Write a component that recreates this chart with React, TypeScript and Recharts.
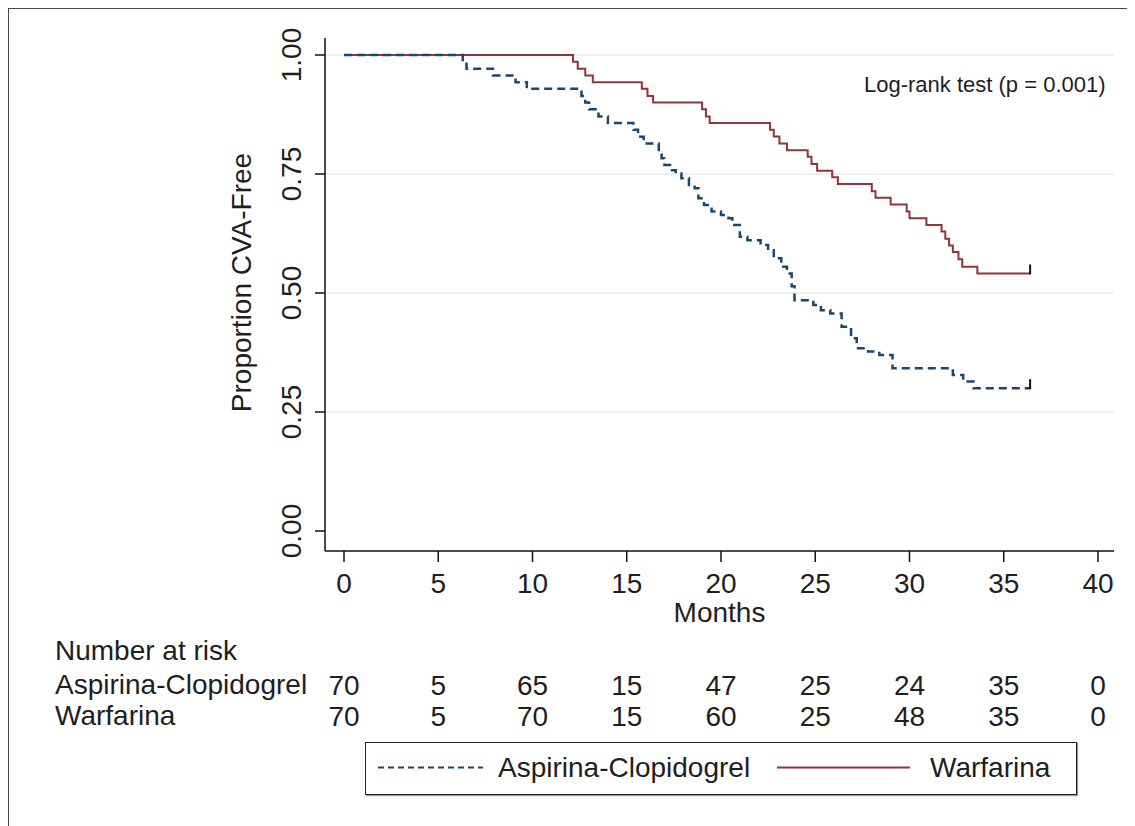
import React from 'react';
import { ComposedChart, Line, XAxis, YAxis, ReferenceLine } from 'recharts';

const monthTicks = [0, 5, 10, 15, 20, 25, 30, 35, 40];
const proportionTicks = [0, 0.25, 0.5, 0.75, 1];
const gridValues = [0.25, 0.5, 0.75, 1];

const riskAspirina = [70, 5, 65, 15, 47, 25, 24, 35, 0];
const riskWarfarina = [70, 5, 70, 15, 60, 25, 48, 35, 0];

// Kaplan-Meier steps: [month, proportion CVA-free]
const aspirinaSteps = [
  [0, 1.0], [6.3, 0.986], [6.5, 0.971], [7.9, 0.957], [9.1, 0.943], [9.7, 0.929],
  [12.6, 0.914], [12.8, 0.9], [13.0, 0.886], [13.5, 0.871], [14.0, 0.857],
  [15.35, 0.843], [15.6, 0.828], [15.9, 0.814], [16.7, 0.797], [16.85, 0.783],
  [17.0, 0.769], [17.3, 0.758], [17.6, 0.751], [17.9, 0.741], [18.3, 0.727],
  [18.6, 0.72], [18.8, 0.699], [19.1, 0.685], [19.5, 0.671], [20.0, 0.664],
  [20.4, 0.657], [20.6, 0.643], [21.0, 0.618], [21.4, 0.611], [22.1, 0.601],
  [22.5, 0.59], [22.8, 0.573], [23.2, 0.555], [23.5, 0.541], [23.75, 0.514],
  [23.9, 0.485], [24.9, 0.475], [25.3, 0.464], [25.8, 0.457], [26.4, 0.429],
  [26.9, 0.405], [27.2, 0.384], [27.8, 0.377], [28.4, 0.37], [29.1, 0.342],
  [32.3, 0.328], [32.85, 0.314], [33.4, 0.3], [36.4, 0.3],
];

const warfarinaSteps = [
  [0, 1.0], [12.15, 0.986], [12.4, 0.971], [12.8, 0.957], [13.2, 0.943],
  [15.8, 0.929], [16.1, 0.914], [16.4, 0.9], [19.0, 0.886], [19.2, 0.871],
  [19.4, 0.857], [22.6, 0.843], [22.8, 0.829], [23.1, 0.814], [23.5, 0.8],
  [24.6, 0.786], [24.8, 0.771], [25.1, 0.757], [25.9, 0.743], [26.2, 0.729],
  [28.0, 0.714], [28.2, 0.7], [29.0, 0.686], [29.85, 0.671], [30.0, 0.657],
  [30.9, 0.643], [31.7, 0.629], [31.9, 0.614], [32.1, 0.6], [32.3, 0.586],
  [32.6, 0.571], [32.8, 0.555], [33.6, 0.541], [36.4, 0.541],
];

const aspirinaData = aspirinaSteps.map(([t, s]) => ({ t, s }));
const warfarinaData = warfarinaSteps.map(([t, s]) => ({ t, s }));

const BLUE = '#1a476f';
const RED = '#90353b';
const INK = '#1e1e1e';
const FONT = '"Liberation Sans", Arial, sans-serif';

// small vertical tick on the last point (censored at end of follow-up)
const censorDot = (lastIndex: number) => (props: any) => {
  const { cx, cy, index } = props;
  if (index !== lastIndex) return <g key={`d-${index}`} />;
  return <line key={`d-${index}`} x1={cx} y1={cy + 1} x2={cx} y2={cy - 9} stroke="#111" strokeWidth={2} />;
};

const YTick = (props: any) => {
  const { x, y, payload } = props;
  return (
    <text x={x} y={y} dy="0.35em" textAnchor="middle" transform={`rotate(-90, ${x}, ${y})`} fontSize={28} fill={INK}>
      {Number(payload.value).toFixed(2)}
    </text>
  );
};

const YLabel = (props: any) => {
  const { viewBox } = props;
  const x = viewBox.x + 233;
  const y = viewBox.y + viewBox.height / 2 - 12;
  return (
    <text x={x} y={y} dy="0.35em" textAnchor="middle" transform={`rotate(-90, ${x}, ${y})`} fontSize={28} fill={INK}>
      Proportion CVA-Free
    </text>
  );
};

const riskFormatter = (counts: number[]) => (v: number) => {
  const i = monthTicks.indexOf(v);
  return i >= 0 ? String(counts[i]) : '';
};

const rowText = { position: 'absolute' as const, fontSize: 28, lineHeight: '28px', color: INK, whiteSpace: 'nowrap' as const };

export default function App() {
  const xDomain: [number, number] = [-1.008, 40.85];
  return (
    <div style={{ position: 'relative', width: 1120, height: 818, fontFamily: FONT, background: '#fff' }}>
      <div style={{ position: 'absolute', left: 0, top: 0, width: 1120, height: 818, borderTop: '1px solid #444', borderLeft: '1px solid #444', borderRight: '1px solid #444', boxSizing: 'border-box' }} />
      <ComposedChart width={1119} height={818} margin={{ top: 30, right: 13, bottom: 108, left: 0 }}>
        <XAxis
          type="number"
          dataKey="t"
          domain={xDomain}
          allowDataOverflow
          ticks={monthTicks}
          interval={0}
          height={86}
          tickSize={11}
          tickMargin={11}
          axisLine={{ stroke: '#111', strokeWidth: 1.5 }}
          tickLine={{ stroke: '#111', strokeWidth: 1.5 }}
          tick={{ fontSize: 28, fill: INK }}
          label={{ value: 'Months', position: 'insideBottom', offset: 15, fontSize: 28, fill: INK }}
        />
        <XAxis
          xAxisId="riskA"
          type="number"
          dataKey="t"
          domain={xDomain}
          allowDataOverflow
          ticks={monthTicks}
          interval={0}
          height={50}
          tickSize={0}
          tickMargin={38}
          axisLine={false}
          tickLine={false}
          tick={{ fontSize: 28, fill: INK }}
          tickFormatter={riskFormatter(riskAspirina)}
        />
        <XAxis
          xAxisId="riskW"
          type="number"
          dataKey="t"
          domain={xDomain}
          allowDataOverflow
          ticks={monthTicks}
          interval={0}
          height={31}
          tickSize={0}
          tickMargin={19}
          axisLine={false}
          tickLine={false}
          tick={{ fontSize: 28, fill: INK }}
          tickFormatter={riskFormatter(riskWarfarina)}
        />
        <YAxis
          type="number"
          domain={[-0.042, 1.0357]}
          allowDataOverflow
          ticks={proportionTicks}
          interval={0}
          width={317}
          tickSize={10}
          tickMargin={24}
          axisLine={{ stroke: '#111', strokeWidth: 1.5 }}
          tickLine={{ stroke: '#111', strokeWidth: 1.5 }}
          tick={<YTick />}
          label={<YLabel />}
        />
        {gridValues.map((v) => (
          <ReferenceLine key={v} y={v} stroke="#eaeaea" strokeWidth={1.5} />
        ))}
        <Line
          data={warfarinaData}
          dataKey="s"
          type="stepAfter"
          stroke={RED}
          strokeWidth={2}
          dot={censorDot(warfarinaData.length - 1)}
          activeDot={false}
          isAnimationActive={false}
        />
        <Line
          data={aspirinaData}
          dataKey="s"
          type="stepAfter"
          stroke={BLUE}
          strokeWidth={2.5}
          strokeDasharray="8 5"
          dot={censorDot(aspirinaData.length - 1)}
          activeDot={false}
          isAnimationActive={false}
        />
      </ComposedChart>

      <div style={{ ...rowText, left: 856, top: 66, fontSize: 22, lineHeight: '22px' }}>Log-rank test (p = 0.001)</div>

      <div style={{ ...rowText, left: 47, top: 629 }}>Number at risk</div>
      <div style={{ ...rowText, left: 47, top: 663 }}>Aspirina-Clopidogrel</div>
      <div style={{ ...rowText, left: 47, top: 694 }}>Warfarina</div>

      <div style={{ position: 'absolute', left: 357, top: 734, width: 712, height: 53, border: '1.5px solid #222', boxShadow: '1px 1px 1px #999', boxSizing: 'border-box', background: '#fff' }}>
        <svg style={{ position: 'absolute', left: 0, top: 0 }} width={709} height={50}>
          <line x1={12} y1={24.5} x2={117} y2={24.5} stroke={BLUE} strokeWidth={2} strokeDasharray="6 4" />
          <line x1={411} y1={24.5} x2={544} y2={24.5} stroke={RED} strokeWidth={2} />
        </svg>
        <div style={{ ...rowText, left: 132, top: 11 }}>Aspirina-Clopidogrel</div>
        <div style={{ ...rowText, left: 564, top: 11 }}>Warfarina</div>
      </div>
    </div>
  );
}
